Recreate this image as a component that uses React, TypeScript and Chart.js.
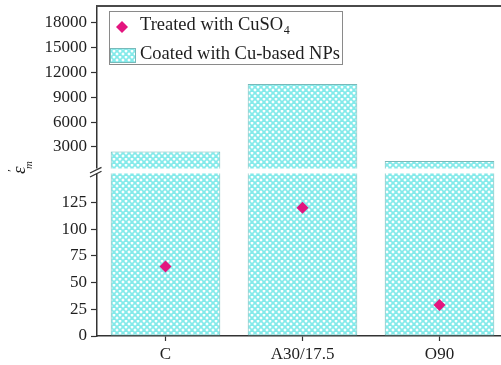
import React, { useEffect, useRef } from 'react';
import { Chart, registerables, LinearScale } from 'chart.js';

// ---- data ----
const categories = ['C', 'A30/17.5', 'O90'];
const coatedValues = [2450, 10600, 1300];
const treatedValues = [65, 120, 29];
const yTickValues = [0, 25, 50, 75, 100, 125, 3000, 6000, 9000, 12000, 15000, 18000];
const lowerRange = [0, 152];
const upperRange = [400, 20000];
const treatedLabel = 'Treated with CuSO₄';
const coatedLabel = 'Coated with Cu-based NPs';

// ---- broken axis geometry (share of axis length) ----
const LOWER_SHARE = 0.4925;
const GAP_SHARE = 0.015;

function valueToDecimal(v: number): number {
  const [l0, l1] = lowerRange;
  const [u0, u1] = upperRange;
  if (v <= l1) return ((v - l0) / (l1 - l0)) * LOWER_SHARE;
  if (v >= u0) return LOWER_SHARE + GAP_SHARE + ((v - u0) / (u1 - u0)) * (1 - LOWER_SHARE - GAP_SHARE);
  return LOWER_SHARE + ((v - l1) / (u0 - l1)) * GAP_SHARE;
}
function decimalToValue(d: number): number {
  const [l0, l1] = lowerRange;
  const [u0, u1] = upperRange;
  if (d <= LOWER_SHARE) return l0 + (d / LOWER_SHARE) * (l1 - l0);
  if (d >= LOWER_SHARE + GAP_SHARE)
    return u0 + ((d - LOWER_SHARE - GAP_SHARE) / (1 - LOWER_SHARE - GAP_SHARE)) * (u1 - u0);
  return l1 + ((d - LOWER_SHARE) / GAP_SHARE) * (u0 - l1);
}

class BrokenLinearScale extends LinearScale {
  static id = 'brokenLinear';
  static defaults = LinearScale.defaults;
  buildTicks() {
    (this as any).start = (this as any).min;
    (this as any).end = (this as any).max;
    return yTickValues.map((value) => ({ value }));
  }
  getPixelForValue(value: number) {
    return (this as any).getPixelForDecimal(valueToDecimal(value));
  }
  getValueForPixel(pixel: number) {
    return decimalToValue((this as any).getDecimalForPixel(pixel));
  }
}

Chart.register(...registerables, BrokenLinearScale as any);

const FONT = '"Liberation Serif", "Times New Roman", serif';
const MAGENTA = '#e3157f';
const HATCH = '#84eaea';
const BAR_EDGE = '#78baba';
const AXIS = '#333333';
const TEXT = '#1e1e1e';

function makePattern(ctx: CanvasRenderingContext2D): CanvasPattern | string {
  const s = 6;
  const tile = document.createElement('canvas');
  tile.width = s;
  tile.height = s;
  const t = tile.getContext('2d');
  if (!t) return HATCH;
  t.fillStyle = '#ffffff';
  t.fillRect(0, 0, s, s);
  t.strokeStyle = HATCH;
  t.lineWidth = 1.8;
  for (let k = -1; k <= 1; k++) {
    t.beginPath();
    t.moveTo(-1, -1 + k * s);
    t.lineTo(s + 1, s + 1 + k * s);
    t.stroke();
    t.beginPath();
    t.moveTo(-1, s + 1 + k * s);
    t.lineTo(s + 1, -1 + k * s);
    t.stroke();
  }
  return ctx.createPattern(tile, 'repeat') || HATCH;
}

function diamond(ctx: CanvasRenderingContext2D, x: number, y: number, r: number) {
  ctx.beginPath();
  ctx.moveTo(x, y - r);
  ctx.lineTo(x + r, y);
  ctx.lineTo(x, y + r);
  ctx.lineTo(x - r, y);
  ctx.closePath();
  ctx.fill();
}

const decorPlugin = {
  id: 'decor',
  afterDatasetsDraw(chart: any) {
    const { ctx, chartArea: ca } = chart;
    const ys = chart.scales.y;
    const y1 = ys.getPixelForValue(upperRange[0]);
    const y2 = ys.getPixelForValue(lowerRange[1]);
    ctx.save();
    // white break band
    ctx.fillStyle = '#ffffff';
    ctx.fillRect(ca.left - 2, y1, ca.right - ca.left + 4, y2 - y1);
    // break slashes
    ctx.strokeStyle = AXIS;
    ctx.lineWidth = 1.3;
    [y1 + 1, y2].forEach((yy) => {
      ctx.beginPath();
      ctx.moveTo(ca.left - 7, yy + 3.5);
      ctx.lineTo(ca.left + 4.5, yy - 2.2);
      ctx.stroke();
    });
    // top frame line
    ctx.strokeStyle = '#4a4a4a';
    ctx.lineWidth = 2;
    ctx.beginPath();
    ctx.moveTo(ca.left - 0.75, ca.top);
    ctx.lineTo(ca.right, ca.top);
    ctx.stroke();
    ctx.restore();
  },
  afterDraw(chart: any) {
    const { ctx, chartArea: ca } = chart;
    ctx.save();
    // y-axis title: epsilon prime, subscript m (rotated)
    const cy = (ca.top + ca.bottom) / 2;
    ctx.translate(25, cy - 2);
    ctx.rotate(-Math.PI / 2);
    ctx.fillStyle = TEXT;
    ctx.textBaseline = 'alphabetic';
    ctx.textAlign = 'left';
    ctx.font = `italic 19px ${FONT}`;
    ctx.fillText('ε', -5, 0);
    ctx.font = `13px ${FONT}`;
    ctx.fillText('′', -3, -9);
    ctx.font = `italic 11px ${FONT}`;
    ctx.fillText('m', 0, 7);
    ctx.restore();

    // legend
    const bl = ca.left + 12;
    const bt = ca.top + 5;
    ctx.save();
    ctx.strokeStyle = '#8a8a8a';
    ctx.lineWidth = 1;
    ctx.strokeRect(Math.round(bl) + 0.5, Math.round(bt) + 0.5, 233, 53);
    ctx.fillStyle = MAGENTA;
    diamond(ctx, bl + 13, bt + 16, 6);
    ctx.fillStyle = TEXT;
    ctx.textBaseline = 'alphabetic';
    ctx.textAlign = 'left';
    ctx.font = `18.5px ${FONT}`;
    const main = treatedLabel.replace('₄', '');
    ctx.fillText(main, bl + 31, bt + 19);
    const w = ctx.measureText(main).width;
    ctx.font = `12px ${FONT}`;
    ctx.fillText('4', bl + 31 + w + 0.5, bt + 23);
    // swatch
    ctx.fillStyle = chart.data.datasets[1].backgroundColor;
    ctx.fillRect(bl + 1, bt + 37, 25, 14);
    ctx.strokeStyle = BAR_EDGE;
    ctx.strokeRect(bl + 1.5, bt + 37.5, 25, 14);
    ctx.fillStyle = TEXT;
    ctx.font = `18.5px ${FONT}`;
    ctx.fillText(coatedLabel, bl + 31, bt + 48);
    ctx.restore();
  },
};

export default function App() {
  const ref = useRef<HTMLCanvasElement>(null);
  useEffect(() => {
    const canvas = ref.current;
    if (!canvas) return;
    const ctx = canvas.getContext('2d');
    if (!ctx) return;
    const pattern = makePattern(ctx);
    const chart = new Chart(canvas, {
      type: 'bar',
      data: {
        labels: categories,
        datasets: [
          {
            type: 'line',
            label: treatedLabel,
            data: treatedValues,
            showLine: false,
            pointStyle: 'rectRot',
            pointRadius: 6,
            pointBackgroundColor: MAGENTA,
            pointBorderColor: MAGENTA,
            pointBorderWidth: 0,
            backgroundColor: MAGENTA,
            borderColor: MAGENTA,
            order: 0,
          } as any,
          {
            type: 'bar',
            label: coatedLabel,
            data: coatedValues,
            backgroundColor: pattern as any,
            borderColor: BAR_EDGE,
            borderWidth: 1,
            borderSkipped: false,
            barPercentage: 0.8,
            categoryPercentage: 1,
            order: 1,
          },
        ],
      },
      options: {
        responsive: false,
        animation: false,
        devicePixelRatio: 1,
        layout: { padding: { top: 5, right: 7, left: 0, bottom: 0 } },
        plugins: { legend: { display: false }, tooltip: { enabled: false } },
        scales: {
          x: {
            type: 'category',
            offset: true,
            grid: {
              offset: false,
              drawOnChartArea: false,
              drawTicks: true,
              tickLength: 5,
              tickColor: AXIS,
              tickWidth: 1.2,
            },
            border: { display: true, color: AXIS, width: 1.5 },
            ticks: { font: { family: FONT, size: 17 }, color: TEXT, padding: 3 },
            afterFit: (s: any) => {
              s.height = 29;
              s.paddingLeft = 0;
              s.paddingRight = 0;
            },
          },
          y: {
            type: 'brokenLinear' as any,
            min: lowerRange[0],
            max: upperRange[1],
            grid: {
              drawOnChartArea: false,
              drawTicks: true,
              tickLength: 6,
              tickColor: AXIS,
              tickWidth: 1.2,
            },
            border: { display: true, color: AXIS, width: 1.5 },
            ticks: {
              font: { family: FONT, size: 17 },
              color: TEXT,
              padding: 4,
              autoSkip: false,
              callback: (v: any) => String(v),
            },
            afterFit: (s: any) => {
              s.width = 97;
              s.paddingTop = 0;
              s.paddingBottom = 0;
            },
          } as any,
        },
      },
      plugins: [decorPlugin],
    });
    return () => chart.destroy();
  }, []);

  return (
    <div
      style={{
        position: 'fixed',
        left: 0,
        top: 0,
        width: 501,
        height: 365,
        overflow: 'hidden',
        background: '#ffffff',
      }}
    >
      <canvas ref={ref} width={515} height={365} style={{ display: 'block', width: 515, height: 365 }} />
    </div>
  );
}
